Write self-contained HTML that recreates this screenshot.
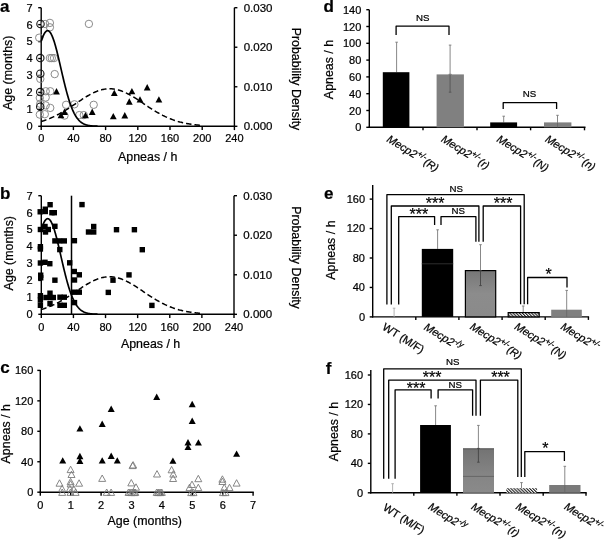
<!DOCTYPE html>
<html><head><meta charset="utf-8"><style>
html,body{margin:0;padding:0;background:#fff;}
svg{display:block;font-family:"Liberation Sans", sans-serif;will-change:transform;}
text{stroke:#000;stroke-width:0.22px;paint-order:stroke;}
text.b{stroke-width:0;}
</style></head><body>
<svg width="606" height="540" viewBox="0 0 606 540">
<rect width="606" height="540" fill="#fff"/>
<line x1="41.20" y1="7.70" x2="41.20" y2="126.90" stroke="#000" stroke-width="1.4" />
<line x1="38.20" y1="126.30" x2="41.20" y2="126.30" stroke="#000" stroke-width="1.4" />
<text x="32.60" y="130.20" font-size="11" text-anchor="end" font-weight="normal" font-style="normal" fill="#000" >0</text>
<line x1="38.20" y1="109.36" x2="41.20" y2="109.36" stroke="#000" stroke-width="1.4" />
<text x="32.60" y="113.26" font-size="11" text-anchor="end" font-weight="normal" font-style="normal" fill="#000" >1</text>
<line x1="38.20" y1="92.41" x2="41.20" y2="92.41" stroke="#000" stroke-width="1.4" />
<text x="32.60" y="96.31" font-size="11" text-anchor="end" font-weight="normal" font-style="normal" fill="#000" >2</text>
<line x1="38.20" y1="75.47" x2="41.20" y2="75.47" stroke="#000" stroke-width="1.4" />
<text x="32.60" y="79.37" font-size="11" text-anchor="end" font-weight="normal" font-style="normal" fill="#000" >3</text>
<line x1="38.20" y1="58.53" x2="41.20" y2="58.53" stroke="#000" stroke-width="1.4" />
<text x="32.60" y="62.43" font-size="11" text-anchor="end" font-weight="normal" font-style="normal" fill="#000" >4</text>
<line x1="38.20" y1="41.59" x2="41.20" y2="41.59" stroke="#000" stroke-width="1.4" />
<text x="32.60" y="45.49" font-size="11" text-anchor="end" font-weight="normal" font-style="normal" fill="#000" >5</text>
<line x1="38.20" y1="24.64" x2="41.20" y2="24.64" stroke="#000" stroke-width="1.4" />
<text x="32.60" y="28.54" font-size="11" text-anchor="end" font-weight="normal" font-style="normal" fill="#000" >6</text>
<line x1="38.20" y1="7.70" x2="41.20" y2="7.70" stroke="#000" stroke-width="1.4" />
<text x="32.60" y="11.60" font-size="11" text-anchor="end" font-weight="normal" font-style="normal" fill="#000" >7</text>
<line x1="234.40" y1="7.70" x2="234.40" y2="126.90" stroke="#000" stroke-width="1.4" />
<line x1="234.40" y1="126.30" x2="237.40" y2="126.30" stroke="#000" stroke-width="1.4" />
<text x="243.70" y="130.40" font-size="11.5" text-anchor="start" font-weight="normal" font-style="normal" fill="#000" >0.000</text>
<line x1="234.40" y1="86.77" x2="237.40" y2="86.77" stroke="#000" stroke-width="1.4" />
<text x="243.70" y="90.87" font-size="11.5" text-anchor="start" font-weight="normal" font-style="normal" fill="#000" >0.010</text>
<line x1="234.40" y1="47.23" x2="237.40" y2="47.23" stroke="#000" stroke-width="1.4" />
<text x="243.70" y="51.33" font-size="11.5" text-anchor="start" font-weight="normal" font-style="normal" fill="#000" >0.020</text>
<line x1="234.40" y1="7.70" x2="237.40" y2="7.70" stroke="#000" stroke-width="1.4" />
<text x="243.70" y="11.80" font-size="11.5" text-anchor="start" font-weight="normal" font-style="normal" fill="#000" >0.030</text>
<line x1="40.50" y1="126.30" x2="235.10" y2="126.30" stroke="#000" stroke-width="1.4" />
<line x1="41.20" y1="126.30" x2="41.20" y2="130.10" stroke="#000" stroke-width="1.4" />
<text x="41.20" y="142.40" font-size="11" text-anchor="middle" font-weight="normal" font-style="normal" fill="#000" >0</text>
<line x1="73.40" y1="126.30" x2="73.40" y2="130.10" stroke="#000" stroke-width="1.4" />
<text x="73.40" y="142.40" font-size="11" text-anchor="middle" font-weight="normal" font-style="normal" fill="#000" >40</text>
<line x1="105.60" y1="126.30" x2="105.60" y2="130.10" stroke="#000" stroke-width="1.4" />
<text x="105.60" y="142.40" font-size="11" text-anchor="middle" font-weight="normal" font-style="normal" fill="#000" >80</text>
<line x1="137.80" y1="126.30" x2="137.80" y2="130.10" stroke="#000" stroke-width="1.4" />
<text x="137.80" y="142.40" font-size="11" text-anchor="middle" font-weight="normal" font-style="normal" fill="#000" >120</text>
<line x1="170.00" y1="126.30" x2="170.00" y2="130.10" stroke="#000" stroke-width="1.4" />
<text x="170.00" y="142.40" font-size="11" text-anchor="middle" font-weight="normal" font-style="normal" fill="#000" >160</text>
<line x1="202.20" y1="126.30" x2="202.20" y2="130.10" stroke="#000" stroke-width="1.4" />
<text x="202.20" y="142.40" font-size="11" text-anchor="middle" font-weight="normal" font-style="normal" fill="#000" >200</text>
<line x1="234.40" y1="126.30" x2="234.40" y2="130.10" stroke="#000" stroke-width="1.4" />
<text x="234.40" y="142.40" font-size="11" text-anchor="middle" font-weight="normal" font-style="normal" fill="#000" >240</text>
<text x="147.70" y="161.40" font-size="12.4" text-anchor="middle" font-weight="normal" font-style="normal" fill="#000" >Apneas / h</text>
<text x="11.50" y="72.75" font-size="12.4" text-anchor="middle" font-weight="normal" font-style="normal" fill="#000" transform="rotate(-90 11.50 72.75)" >Age (months)</text>
<text x="291.60" y="79.00" font-size="12.4" text-anchor="middle" font-weight="normal" font-style="normal" fill="#000" transform="rotate(90 291.60 79.00)" >Probability Density</text>
<text x="0.00" y="12.20" font-size="17" text-anchor="start" font-weight="bold" font-style="normal" fill="#000" >a</text>
<circle cx="45.10" cy="24.00" r="3.7" fill="none" stroke="#858585" stroke-width="0.95"/>
<circle cx="49.90" cy="22.90" r="3.7" fill="none" stroke="#858585" stroke-width="0.95"/>
<circle cx="49.90" cy="27.30" r="3.7" fill="none" stroke="#858585" stroke-width="0.95"/>
<circle cx="88.90" cy="23.90" r="3.7" fill="none" stroke="#858585" stroke-width="0.95"/>
<circle cx="39.20" cy="37.70" r="3.7" fill="none" stroke="#858585" stroke-width="0.95"/>
<circle cx="49.90" cy="58.10" r="3.7" fill="none" stroke="#858585" stroke-width="0.95"/>
<circle cx="51.80" cy="58.10" r="3.7" fill="none" stroke="#858585" stroke-width="0.95"/>
<circle cx="54.00" cy="58.10" r="3.7" fill="none" stroke="#858585" stroke-width="0.95"/>
<circle cx="40.30" cy="78.90" r="3.7" fill="none" stroke="#858585" stroke-width="0.95"/>
<circle cx="54.70" cy="74.10" r="3.7" fill="none" stroke="#858585" stroke-width="0.95"/>
<circle cx="45.70" cy="91.25" r="3.7" fill="none" stroke="#858585" stroke-width="0.95"/>
<circle cx="50.25" cy="91.25" r="3.7" fill="none" stroke="#858585" stroke-width="0.95"/>
<circle cx="39.80" cy="97.90" r="3.7" fill="none" stroke="#858585" stroke-width="0.95"/>
<circle cx="45.70" cy="97.50" r="3.7" fill="none" stroke="#858585" stroke-width="0.95"/>
<circle cx="40.25" cy="103.75" r="3.7" fill="none" stroke="#858585" stroke-width="0.95"/>
<circle cx="45.70" cy="105.40" r="3.7" fill="none" stroke="#858585" stroke-width="0.95"/>
<circle cx="50.25" cy="107.90" r="3.7" fill="none" stroke="#858585" stroke-width="0.95"/>
<circle cx="39.80" cy="114.60" r="3.7" fill="none" stroke="#858585" stroke-width="0.95"/>
<circle cx="44.80" cy="114.20" r="3.7" fill="none" stroke="#858585" stroke-width="0.95"/>
<circle cx="66.10" cy="104.80" r="3.7" fill="none" stroke="#858585" stroke-width="0.95"/>
<circle cx="74.40" cy="104.30" r="3.7" fill="none" stroke="#858585" stroke-width="0.95"/>
<circle cx="93.70" cy="104.80" r="3.7" fill="none" stroke="#858585" stroke-width="0.95"/>
<circle cx="79.30" cy="115.10" r="3.7" fill="none" stroke="#858585" stroke-width="0.95"/>
<circle cx="83.80" cy="115.10" r="3.7" fill="none" stroke="#858585" stroke-width="0.95"/>
<circle cx="64.50" cy="115.60" r="3.7" fill="none" stroke="#858585" stroke-width="0.95"/>
<circle cx="40.50" cy="24.00" r="3.7" fill="none" stroke="#111" stroke-width="1.1"/>
<circle cx="40.30" cy="58.10" r="3.7" fill="none" stroke="#111" stroke-width="1.1"/>
<circle cx="40.30" cy="73.70" r="3.7" fill="none" stroke="#111" stroke-width="1.1"/>
<circle cx="40.25" cy="92.10" r="3.7" fill="none" stroke="#111" stroke-width="1.1"/>
<circle cx="40.25" cy="106.70" r="3.7" fill="none" stroke="#111" stroke-width="1.1"/>
<polyline points="41.20,41.31 41.60,40.10 42.01,38.94 42.41,37.85 42.81,36.83 43.21,35.88 43.62,35.00 44.02,34.20 44.42,33.48 44.82,32.84 45.23,32.28 45.63,31.81 46.03,31.41 46.43,31.11 46.84,30.89 47.24,30.76 47.64,30.72 48.04,30.76 48.45,30.89 48.85,31.11 49.25,31.41 49.65,31.81 50.05,32.28 50.46,32.84 50.86,33.48 51.26,34.20 51.67,35.00 52.07,35.88 52.47,36.83 52.87,37.85 53.28,38.94 53.68,40.10 54.08,41.31 54.48,42.59 54.89,43.93 55.29,45.31 55.69,46.75 56.09,48.24 56.50,49.76 56.90,51.33 57.30,52.93 57.70,54.56 58.11,56.22 58.51,57.90 58.91,59.61 59.31,61.33 59.72,63.07 60.12,64.82 60.52,66.57 60.92,68.32 61.33,70.08 61.73,71.83 62.13,73.58 62.53,75.32 62.94,77.04 63.34,78.76 63.74,80.45 64.14,82.12 64.55,83.77 64.95,85.40 65.35,87.00 65.75,88.58 66.16,90.12 66.56,91.63 66.96,93.11 67.36,94.56 67.77,95.97 68.17,97.34 68.57,98.68 68.97,99.98 69.38,101.24 69.78,102.47 70.18,103.65 70.58,104.80 70.98,105.90 71.39,106.97 71.79,108.00 72.19,108.99 72.59,109.94 73.00,110.85 73.40,111.72 73.80,112.56 74.20,113.36 74.61,114.13 75.01,114.86 75.41,115.56 75.81,116.22 76.22,116.85 76.62,117.46 77.02,118.02 77.42,118.56 77.83,119.08 78.23,119.56 78.63,120.02 79.03,120.45 79.44,120.86 79.84,121.24 80.24,121.60 80.65,121.94 81.05,122.26 81.45,122.56 81.85,122.83 82.25,123.10 82.66,123.34 83.06,123.57 83.46,123.78 83.87,123.98 84.27,124.17 84.67,124.34 85.07,124.50 85.47,124.65 85.88,124.78 86.28,124.91 86.68,125.03 87.09,125.14 87.49,125.24 87.89,125.33 88.29,125.42 88.69,125.49 89.10,125.57 89.50,125.63 89.90,125.69 90.31,125.75 90.71,125.80 91.11,125.85 91.51,125.89 91.91,125.93 92.32,125.97 92.72,126.00 93.12,126.03 93.53,126.06 93.93,126.08 94.33,126.10 94.73,126.12 95.13,126.14 95.54,126.16 95.94,126.17 96.34,126.18 96.75,126.20 97.15,126.21 97.55,126.22" fill="none" stroke="#000" stroke-width="1.7"/>
<polyline points="41.20,121.46 42.01,121.22 42.81,120.97 43.62,120.72 44.42,120.45 45.23,120.18 46.03,119.90 46.84,119.61 47.64,119.31 48.45,119.00 49.25,118.68 50.05,118.35 50.86,118.01 51.67,117.66 52.47,117.30 53.28,116.94 54.08,116.56 54.89,116.17 55.69,115.78 56.50,115.38 57.30,114.96 58.11,114.54 58.91,114.11 59.72,113.67 60.52,113.22 61.33,112.76 62.13,112.30 62.94,111.83 63.74,111.35 64.55,110.86 65.35,110.37 66.16,109.87 66.96,109.36 67.77,108.85 68.57,108.33 69.38,107.81 70.18,107.29 70.98,106.76 71.79,106.22 72.59,105.69 73.40,105.15 74.20,104.61 75.01,104.07 75.81,103.52 76.62,102.98 77.42,102.44 78.23,101.90 79.03,101.36 79.84,100.83 80.65,100.29 81.45,99.76 82.25,99.24 83.06,98.72 83.87,98.21 84.67,97.70 85.47,97.20 86.28,96.71 87.09,96.23 87.89,95.76 88.69,95.30 89.50,94.85 90.31,94.41 91.11,93.98 91.91,93.56 92.72,93.16 93.53,92.77 94.33,92.40 95.13,92.04 95.94,91.70 96.75,91.38 97.55,91.07 98.35,90.78 99.16,90.51 99.97,90.25 100.77,90.01 101.57,89.80 102.38,89.60 103.19,89.42 103.99,89.27 104.79,89.13 105.60,89.01 106.41,88.92 107.21,88.84 108.02,88.79 108.82,88.76 109.62,88.75 110.43,88.76 111.23,88.79 112.04,88.84 112.84,88.92 113.65,89.01 114.45,89.13 115.26,89.27 116.06,89.42 116.87,89.60 117.67,89.80 118.48,90.01 119.28,90.25 120.09,90.51 120.89,90.78 121.70,91.07 122.50,91.38 123.31,91.70 124.11,92.04 124.92,92.40 125.72,92.77 126.53,93.16 127.33,93.56 128.14,93.98 128.94,94.41 129.75,94.85 130.56,95.30 131.36,95.76 132.16,96.23 132.97,96.71 133.77,97.20 134.58,97.70 135.38,98.21 136.19,98.72 137.00,99.24 137.80,99.76 138.60,100.29 139.41,100.83 140.21,101.36 141.02,101.90 141.82,102.44 142.63,102.98 143.44,103.52 144.24,104.07 145.05,104.61 145.85,105.15 146.66,105.69 147.46,106.22 148.26,106.76 149.07,107.29 149.88,107.81 150.68,108.33 151.49,108.85 152.29,109.36 153.09,109.87 153.90,110.37 154.70,110.86 155.51,111.35 156.31,111.83 157.12,112.30 157.93,112.76 158.73,113.22 159.53,113.67 160.34,114.11 161.14,114.54 161.95,114.96 162.75,115.38 163.56,115.78 164.37,116.17 165.17,116.56 165.97,116.94 166.78,117.30 167.58,117.66 168.39,118.01 169.19,118.35 170.00,118.68 170.81,119.00 171.61,119.31 172.42,119.61 173.22,119.90 174.02,120.18 174.83,120.45 175.63,120.72 176.44,120.97 177.25,121.22 178.05,121.46 178.86,121.68 179.66,121.91 180.46,122.12 181.27,122.32 182.07,122.52 182.88,122.71 183.69,122.89 184.49,123.06 185.30,123.23 186.10,123.39 186.90,123.54 187.71,123.69 188.51,123.83 189.32,123.97 190.12,124.09 190.93,124.22 191.74,124.33 192.54,124.44 193.34,124.55 194.15,124.65 194.95,124.75 195.76,124.84 196.56,124.92 197.37,125.01 198.18,125.08 198.98,125.16 199.78,125.23 200.59,125.29 201.39,125.36 202.20,125.42" fill="none" stroke="#000" stroke-width="1.5" stroke-dasharray="5.5,3"/>
<polygon points="53.10,94.45 59.90,94.45 56.50,88.05" fill="#000" stroke="none" stroke-width="0.9"/>
<polygon points="61.10,114.90 67.90,114.90 64.50,108.50" fill="#000" stroke="none" stroke-width="0.9"/>
<polygon points="57.60,118.30 64.40,118.30 61.00,111.90" fill="#000" stroke="none" stroke-width="0.9"/>
<polygon points="82.10,118.30 88.90,118.30 85.50,111.90" fill="#000" stroke="none" stroke-width="0.9"/>
<polygon points="88.80,114.90 95.60,114.90 92.20,108.50" fill="#000" stroke="none" stroke-width="0.9"/>
<polygon points="110.90,96.10 117.70,96.10 114.30,89.70" fill="#000" stroke="none" stroke-width="0.9"/>
<polygon points="109.90,119.30 116.70,119.30 113.30,112.90" fill="#000" stroke="none" stroke-width="0.9"/>
<polygon points="128.50,94.30 135.30,94.30 131.90,87.90" fill="#000" stroke="none" stroke-width="0.9"/>
<polygon points="125.90,104.70 132.70,104.70 129.30,98.30" fill="#000" stroke="none" stroke-width="0.9"/>
<polygon points="136.60,102.60 143.40,102.60 140.00,96.20" fill="#000" stroke="none" stroke-width="0.9"/>
<polygon points="143.80,90.40 150.60,90.40 147.20,84.00" fill="#000" stroke="none" stroke-width="0.9"/>
<polygon points="155.50,102.60 162.30,102.60 158.90,96.20" fill="#000" stroke="none" stroke-width="0.9"/>
<polygon points="121.40,118.40 128.20,118.40 124.80,112.00" fill="#000" stroke="none" stroke-width="0.9"/>
<line x1="41.30" y1="195.70" x2="41.30" y2="314.90" stroke="#000" stroke-width="1.4" />
<line x1="38.30" y1="314.30" x2="41.30" y2="314.30" stroke="#000" stroke-width="1.4" />
<text x="32.70" y="318.20" font-size="11" text-anchor="end" font-weight="normal" font-style="normal" fill="#000" >0</text>
<line x1="38.30" y1="297.36" x2="41.30" y2="297.36" stroke="#000" stroke-width="1.4" />
<text x="32.70" y="301.26" font-size="11" text-anchor="end" font-weight="normal" font-style="normal" fill="#000" >1</text>
<line x1="38.30" y1="280.41" x2="41.30" y2="280.41" stroke="#000" stroke-width="1.4" />
<text x="32.70" y="284.31" font-size="11" text-anchor="end" font-weight="normal" font-style="normal" fill="#000" >2</text>
<line x1="38.30" y1="263.47" x2="41.30" y2="263.47" stroke="#000" stroke-width="1.4" />
<text x="32.70" y="267.37" font-size="11" text-anchor="end" font-weight="normal" font-style="normal" fill="#000" >3</text>
<line x1="38.30" y1="246.53" x2="41.30" y2="246.53" stroke="#000" stroke-width="1.4" />
<text x="32.70" y="250.43" font-size="11" text-anchor="end" font-weight="normal" font-style="normal" fill="#000" >4</text>
<line x1="38.30" y1="229.59" x2="41.30" y2="229.59" stroke="#000" stroke-width="1.4" />
<text x="32.70" y="233.49" font-size="11" text-anchor="end" font-weight="normal" font-style="normal" fill="#000" >5</text>
<line x1="38.30" y1="212.64" x2="41.30" y2="212.64" stroke="#000" stroke-width="1.4" />
<text x="32.70" y="216.54" font-size="11" text-anchor="end" font-weight="normal" font-style="normal" fill="#000" >6</text>
<line x1="38.30" y1="195.70" x2="41.30" y2="195.70" stroke="#000" stroke-width="1.4" />
<text x="32.70" y="199.60" font-size="11" text-anchor="end" font-weight="normal" font-style="normal" fill="#000" >7</text>
<line x1="234.00" y1="195.70" x2="234.00" y2="314.90" stroke="#000" stroke-width="1.4" />
<line x1="234.00" y1="314.30" x2="237.00" y2="314.30" stroke="#000" stroke-width="1.4" />
<text x="243.30" y="318.40" font-size="11.5" text-anchor="start" font-weight="normal" font-style="normal" fill="#000" >0.000</text>
<line x1="234.00" y1="274.77" x2="237.00" y2="274.77" stroke="#000" stroke-width="1.4" />
<text x="243.30" y="278.87" font-size="11.5" text-anchor="start" font-weight="normal" font-style="normal" fill="#000" >0.010</text>
<line x1="234.00" y1="235.23" x2="237.00" y2="235.23" stroke="#000" stroke-width="1.4" />
<text x="243.30" y="239.33" font-size="11.5" text-anchor="start" font-weight="normal" font-style="normal" fill="#000" >0.020</text>
<line x1="234.00" y1="195.70" x2="237.00" y2="195.70" stroke="#000" stroke-width="1.4" />
<text x="243.30" y="199.80" font-size="11.5" text-anchor="start" font-weight="normal" font-style="normal" fill="#000" >0.030</text>
<line x1="40.60" y1="314.30" x2="234.70" y2="314.30" stroke="#000" stroke-width="1.4" />
<line x1="41.30" y1="314.30" x2="41.30" y2="318.10" stroke="#000" stroke-width="1.4" />
<text x="41.30" y="331.00" font-size="11" text-anchor="middle" font-weight="normal" font-style="normal" fill="#000" >0</text>
<line x1="73.42" y1="314.30" x2="73.42" y2="318.10" stroke="#000" stroke-width="1.4" />
<text x="73.42" y="331.00" font-size="11" text-anchor="middle" font-weight="normal" font-style="normal" fill="#000" >40</text>
<line x1="105.53" y1="314.30" x2="105.53" y2="318.10" stroke="#000" stroke-width="1.4" />
<text x="105.53" y="331.00" font-size="11" text-anchor="middle" font-weight="normal" font-style="normal" fill="#000" >80</text>
<line x1="137.65" y1="314.30" x2="137.65" y2="318.10" stroke="#000" stroke-width="1.4" />
<text x="137.65" y="331.00" font-size="11" text-anchor="middle" font-weight="normal" font-style="normal" fill="#000" >120</text>
<line x1="169.77" y1="314.30" x2="169.77" y2="318.10" stroke="#000" stroke-width="1.4" />
<text x="169.77" y="331.00" font-size="11" text-anchor="middle" font-weight="normal" font-style="normal" fill="#000" >160</text>
<line x1="201.88" y1="314.30" x2="201.88" y2="318.10" stroke="#000" stroke-width="1.4" />
<text x="201.88" y="331.00" font-size="11" text-anchor="middle" font-weight="normal" font-style="normal" fill="#000" >200</text>
<line x1="234.00" y1="314.30" x2="234.00" y2="318.10" stroke="#000" stroke-width="1.4" />
<text x="234.00" y="331.00" font-size="11" text-anchor="middle" font-weight="normal" font-style="normal" fill="#000" >240</text>
<text x="150.60" y="347.70" font-size="12.4" text-anchor="middle" font-weight="normal" font-style="normal" fill="#000" >Apneas / h</text>
<text x="12.70" y="253.20" font-size="12.4" text-anchor="middle" font-weight="normal" font-style="normal" fill="#000" transform="rotate(-90 12.70 253.20)" >Age (months)</text>
<text x="291.60" y="257.50" font-size="12.4" text-anchor="middle" font-weight="normal" font-style="normal" fill="#000" transform="rotate(90 291.60 257.50)" >Probability Density</text>
<text x="-0.10" y="198.50" font-size="17" text-anchor="start" font-weight="bold" font-style="normal" fill="#000" >b</text>
<polyline points="41.30,229.31 41.70,228.10 42.10,226.94 42.50,225.85 42.91,224.83 43.31,223.88 43.71,223.00 44.11,222.20 44.51,221.48 44.91,220.84 45.31,220.28 45.72,219.81 46.12,219.41 46.52,219.11 46.92,218.89 47.32,218.76 47.72,218.72 48.12,218.76 48.53,218.89 48.93,219.11 49.33,219.41 49.73,219.81 50.13,220.28 50.53,220.84 50.93,221.48 51.34,222.20 51.74,223.00 52.14,223.88 52.54,224.83 52.94,225.85 53.34,226.94 53.75,228.10 54.15,229.31 54.55,230.59 54.95,231.93 55.35,233.31 55.75,234.75 56.15,236.24 56.56,237.76 56.96,239.33 57.36,240.93 57.76,242.56 58.16,244.22 58.56,245.90 58.96,247.61 59.37,249.33 59.77,251.07 60.17,252.82 60.57,254.57 60.97,256.32 61.37,258.08 61.77,259.83 62.18,261.58 62.58,263.32 62.98,265.04 63.38,266.76 63.78,268.45 64.18,270.12 64.58,271.77 64.99,273.40 65.39,275.00 65.79,276.58 66.19,278.12 66.59,279.63 66.99,281.11 67.39,282.56 67.80,283.97 68.20,285.34 68.60,286.68 69.00,287.98 69.40,289.24 69.80,290.47 70.20,291.65 70.61,292.80 71.01,293.90 71.41,294.97 71.81,296.00 72.21,296.99 72.61,297.94 73.02,298.85 73.42,299.72 73.82,300.56 74.22,301.36 74.62,302.13 75.02,302.86 75.42,303.56 75.83,304.22 76.23,304.85 76.63,305.46 77.03,306.02 77.43,306.56 77.83,307.08 78.23,307.56 78.64,308.02 79.04,308.45 79.44,308.86 79.84,309.24 80.24,309.60 80.64,309.94 81.04,310.26 81.45,310.56 81.85,310.83 82.25,311.10 82.65,311.34 83.05,311.57 83.45,311.78 83.85,311.98 84.26,312.17 84.66,312.34 85.06,312.50 85.46,312.65 85.86,312.78 86.26,312.91 86.66,313.03 87.07,313.14 87.47,313.24 87.87,313.33 88.27,313.42 88.67,313.49 89.07,313.57 89.47,313.63 89.88,313.69 90.28,313.75 90.68,313.80 91.08,313.85 91.48,313.89 91.88,313.93 92.29,313.97 92.69,314.00 93.09,314.03 93.49,314.06 93.89,314.08 94.29,314.10 94.69,314.12 95.10,314.14 95.50,314.16 95.90,314.17 96.30,314.18 96.70,314.20 97.10,314.21 97.50,314.22" fill="none" stroke="#000" stroke-width="1.7"/>
<polyline points="41.30,309.46 42.10,309.22 42.91,308.97 43.71,308.72 44.51,308.45 45.31,308.18 46.12,307.90 46.92,307.61 47.72,307.31 48.53,307.00 49.33,306.68 50.13,306.35 50.93,306.01 51.74,305.66 52.54,305.30 53.34,304.94 54.15,304.56 54.95,304.17 55.75,303.78 56.56,303.38 57.36,302.96 58.16,302.54 58.96,302.11 59.77,301.67 60.57,301.22 61.37,300.76 62.18,300.30 62.98,299.83 63.78,299.35 64.58,298.86 65.39,298.37 66.19,297.87 66.99,297.36 67.80,296.85 68.60,296.33 69.40,295.81 70.20,295.29 71.01,294.76 71.81,294.22 72.61,293.69 73.42,293.15 74.22,292.61 75.02,292.07 75.83,291.52 76.63,290.98 77.43,290.44 78.23,289.90 79.04,289.36 79.84,288.83 80.64,288.29 81.45,287.76 82.25,287.24 83.05,286.72 83.85,286.21 84.66,285.70 85.46,285.20 86.26,284.71 87.07,284.23 87.87,283.76 88.67,283.30 89.47,282.85 90.28,282.41 91.08,281.98 91.88,281.56 92.69,281.16 93.49,280.77 94.29,280.40 95.10,280.04 95.90,279.70 96.70,279.38 97.50,279.07 98.31,278.78 99.11,278.51 99.91,278.25 100.72,278.01 101.52,277.80 102.32,277.60 103.12,277.42 103.93,277.27 104.73,277.13 105.53,277.01 106.34,276.92 107.14,276.84 107.94,276.79 108.74,276.76 109.55,276.75 110.35,276.76 111.15,276.79 111.96,276.84 112.76,276.92 113.56,277.01 114.37,277.13 115.17,277.27 115.97,277.42 116.77,277.60 117.58,277.80 118.38,278.01 119.18,278.25 119.99,278.51 120.79,278.78 121.59,279.07 122.39,279.38 123.20,279.70 124.00,280.04 124.80,280.40 125.61,280.77 126.41,281.16 127.21,281.56 128.01,281.98 128.82,282.41 129.62,282.85 130.42,283.30 131.23,283.76 132.03,284.23 132.83,284.71 133.64,285.20 134.44,285.70 135.24,286.21 136.04,286.72 136.85,287.24 137.65,287.76 138.45,288.29 139.26,288.83 140.06,289.36 140.86,289.90 141.66,290.44 142.47,290.98 143.27,291.52 144.07,292.07 144.88,292.61 145.68,293.15 146.48,293.69 147.28,294.22 148.09,294.76 148.89,295.29 149.69,295.81 150.50,296.33 151.30,296.85 152.10,297.36 152.91,297.87 153.71,298.37 154.51,298.86 155.31,299.35 156.12,299.83 156.92,300.30 157.72,300.76 158.53,301.22 159.33,301.67 160.13,302.11 160.93,302.54 161.74,302.96 162.54,303.38 163.34,303.78 164.15,304.17 164.95,304.56 165.75,304.94 166.56,305.30 167.36,305.66 168.16,306.01 168.96,306.35 169.77,306.68 170.57,307.00 171.37,307.31 172.18,307.61 172.98,307.90 173.78,308.18 174.58,308.45 175.39,308.72 176.19,308.97 176.99,309.22 177.80,309.46 178.60,309.68 179.40,309.91 180.20,310.12 181.01,310.32 181.81,310.52 182.61,310.71 183.42,310.89 184.22,311.06 185.02,311.23 185.82,311.39 186.63,311.54 187.43,311.69 188.23,311.83 189.04,311.97 189.84,312.09 190.64,312.22 191.45,312.33 192.25,312.44 193.05,312.55 193.85,312.65 194.66,312.75 195.46,312.84 196.26,312.92 197.07,313.01 197.87,313.08 198.67,313.16 199.47,313.23 200.28,313.29 201.08,313.36 201.88,313.42" fill="none" stroke="#000" stroke-width="1.5" stroke-dasharray="5.5,3"/>
<line x1="71.50" y1="195.70" x2="71.50" y2="314.30" stroke="#000" stroke-width="1.5" />
<line x1="40.30" y1="369.90" x2="40.30" y2="492.80" stroke="#000" stroke-width="1.4" />
<line x1="37.30" y1="492.20" x2="40.30" y2="492.20" stroke="#000" stroke-width="1.4" />
<text x="33.30" y="496.10" font-size="11" text-anchor="end" font-weight="normal" font-style="normal" fill="#000" >0</text>
<line x1="37.30" y1="461.75" x2="40.30" y2="461.75" stroke="#000" stroke-width="1.4" />
<text x="33.30" y="465.65" font-size="11" text-anchor="end" font-weight="normal" font-style="normal" fill="#000" >40</text>
<line x1="37.30" y1="431.30" x2="40.30" y2="431.30" stroke="#000" stroke-width="1.4" />
<text x="33.30" y="435.20" font-size="11" text-anchor="end" font-weight="normal" font-style="normal" fill="#000" >80</text>
<line x1="37.30" y1="400.85" x2="40.30" y2="400.85" stroke="#000" stroke-width="1.4" />
<text x="33.30" y="404.75" font-size="11" text-anchor="end" font-weight="normal" font-style="normal" fill="#000" >120</text>
<line x1="37.30" y1="370.40" x2="40.30" y2="370.40" stroke="#000" stroke-width="1.4" />
<text x="33.30" y="374.30" font-size="11" text-anchor="end" font-weight="normal" font-style="normal" fill="#000" >160</text>
<line x1="39.60" y1="492.20" x2="253.80" y2="492.20" stroke="#000" stroke-width="1.4" />
<line x1="40.30" y1="492.20" x2="40.30" y2="495.80" stroke="#000" stroke-width="1.4" />
<text x="40.30" y="508.50" font-size="11" text-anchor="middle" font-weight="normal" font-style="normal" fill="#000" >0</text>
<line x1="70.70" y1="492.20" x2="70.70" y2="495.80" stroke="#000" stroke-width="1.4" />
<text x="70.70" y="508.50" font-size="11" text-anchor="middle" font-weight="normal" font-style="normal" fill="#000" >1</text>
<line x1="101.10" y1="492.20" x2="101.10" y2="495.80" stroke="#000" stroke-width="1.4" />
<text x="101.10" y="508.50" font-size="11" text-anchor="middle" font-weight="normal" font-style="normal" fill="#000" >2</text>
<line x1="131.50" y1="492.20" x2="131.50" y2="495.80" stroke="#000" stroke-width="1.4" />
<text x="131.50" y="508.50" font-size="11" text-anchor="middle" font-weight="normal" font-style="normal" fill="#000" >3</text>
<line x1="161.90" y1="492.20" x2="161.90" y2="495.80" stroke="#000" stroke-width="1.4" />
<text x="161.90" y="508.50" font-size="11" text-anchor="middle" font-weight="normal" font-style="normal" fill="#000" >4</text>
<line x1="192.30" y1="492.20" x2="192.30" y2="495.80" stroke="#000" stroke-width="1.4" />
<text x="192.30" y="508.50" font-size="11" text-anchor="middle" font-weight="normal" font-style="normal" fill="#000" >5</text>
<line x1="222.70" y1="492.20" x2="222.70" y2="495.80" stroke="#000" stroke-width="1.4" />
<text x="222.70" y="508.50" font-size="11" text-anchor="middle" font-weight="normal" font-style="normal" fill="#000" >6</text>
<line x1="253.10" y1="492.20" x2="253.10" y2="495.80" stroke="#000" stroke-width="1.4" />
<text x="253.10" y="508.50" font-size="11" text-anchor="middle" font-weight="normal" font-style="normal" fill="#000" >7</text>
<text x="144.80" y="525.20" font-size="12.4" text-anchor="middle" font-weight="normal" font-style="normal" fill="#000" >Age (months)</text>
<text x="10.30" y="433.80" font-size="12.4" text-anchor="middle" font-weight="normal" font-style="normal" fill="#000" transform="rotate(-90 10.30 433.80)" >Apneas / h</text>
<text x="0.20" y="373.40" font-size="17" text-anchor="start" font-weight="bold" font-style="normal" fill="#000" >c</text>
<defs>
<pattern id="hatch" patternUnits="userSpaceOnUse" width="2.2" height="2.2" patternTransform="rotate(-45)">
<rect width="2.2" height="2.2" fill="#fff"/><rect width="1.1" height="2.2" fill="#222"/></pattern>
<linearGradient id="gR" x1="0" y1="0" x2="0" y2="1">
<stop offset="0" stop-color="#777"/><stop offset="0.5" stop-color="#8c8c8c"/><stop offset="1" stop-color="#8a8a8a"/></linearGradient>
<linearGradient id="gr" x1="0" y1="0" x2="0" y2="1">
<stop offset="0" stop-color="#737373"/><stop offset="0.6" stop-color="#858585"/><stop offset="1" stop-color="#8a8a8a"/></linearGradient>
</defs>
<line x1="369.30" y1="9.70" x2="369.30" y2="127.90" stroke="#000" stroke-width="1.4" />
<line x1="366.30" y1="127.30" x2="369.30" y2="127.30" stroke="#000" stroke-width="1.4" />
<text x="361.30" y="131.40" font-size="11" text-anchor="end" font-weight="normal" font-style="normal" fill="#000" >0</text>
<line x1="366.30" y1="110.50" x2="369.30" y2="110.50" stroke="#000" stroke-width="1.4" />
<text x="361.30" y="114.60" font-size="11" text-anchor="end" font-weight="normal" font-style="normal" fill="#000" >20</text>
<line x1="366.30" y1="93.70" x2="369.30" y2="93.70" stroke="#000" stroke-width="1.4" />
<text x="361.30" y="97.80" font-size="11" text-anchor="end" font-weight="normal" font-style="normal" fill="#000" >40</text>
<line x1="366.30" y1="76.90" x2="369.30" y2="76.90" stroke="#000" stroke-width="1.4" />
<text x="361.30" y="81.00" font-size="11" text-anchor="end" font-weight="normal" font-style="normal" fill="#000" >60</text>
<line x1="366.30" y1="60.10" x2="369.30" y2="60.10" stroke="#000" stroke-width="1.4" />
<text x="361.30" y="64.20" font-size="11" text-anchor="end" font-weight="normal" font-style="normal" fill="#000" >80</text>
<line x1="366.30" y1="43.30" x2="369.30" y2="43.30" stroke="#000" stroke-width="1.4" />
<text x="361.30" y="47.40" font-size="11" text-anchor="end" font-weight="normal" font-style="normal" fill="#000" >100</text>
<line x1="366.30" y1="26.50" x2="369.30" y2="26.50" stroke="#000" stroke-width="1.4" />
<text x="361.30" y="30.60" font-size="11" text-anchor="end" font-weight="normal" font-style="normal" fill="#000" >120</text>
<line x1="366.30" y1="9.70" x2="369.30" y2="9.70" stroke="#000" stroke-width="1.4" />
<text x="361.30" y="13.80" font-size="11" text-anchor="end" font-weight="normal" font-style="normal" fill="#000" >140</text>
<line x1="368.60" y1="127.30" x2="585.50" y2="127.30" stroke="#000" stroke-width="1.4" />
<line x1="423.00" y1="127.30" x2="423.00" y2="130.30" stroke="#000" stroke-width="1.4" />
<line x1="477.00" y1="127.30" x2="477.00" y2="130.30" stroke="#000" stroke-width="1.4" />
<line x1="530.60" y1="127.30" x2="530.60" y2="130.30" stroke="#000" stroke-width="1.4" />
<line x1="584.50" y1="127.30" x2="584.50" y2="130.30" stroke="#000" stroke-width="1.4" />
<text x="333.20" y="69.50" font-size="12.4" text-anchor="middle" font-weight="normal" font-style="normal" fill="#000" transform="rotate(-90 333.20 69.50)" >Apneas / h</text>
<text x="328.70" y="12.20" font-size="17" text-anchor="middle" font-weight="bold" font-style="normal" fill="#000" >d</text>
<line x1="396.60" y1="42.20" x2="396.60" y2="72.20" stroke="#7a7a7a" stroke-width="0.9" />
<line x1="395.30" y1="42.20" x2="397.90" y2="42.20" stroke="#7a7a7a" stroke-width="0.9" />
<rect x="382.80" y="72.20" width="26.60" height="55.10" fill="#000" stroke="none" stroke-width="0" />
<rect x="436.60" y="74.40" width="27.30" height="52.90" fill="#808080" stroke="none" stroke-width="0" />
<line x1="450.10" y1="45.10" x2="450.10" y2="74.40" stroke="#7a7a7a" stroke-width="0.9" />
<line x1="448.80" y1="45.10" x2="451.40" y2="45.10" stroke="#7a7a7a" stroke-width="0.9" />
<line x1="450.10" y1="74.40" x2="450.10" y2="92.20" stroke="#555" stroke-width="0.9" />
<line x1="448.80" y1="74.40" x2="451.40" y2="74.40" stroke="#555" stroke-width="0.9" />
<line x1="448.80" y1="92.20" x2="451.40" y2="92.20" stroke="#555" stroke-width="0.9" />
<line x1="448.80" y1="74.40" x2="451.40" y2="74.40" stroke="#8a8a8a" stroke-width="0.8" />
<line x1="503.70" y1="116.20" x2="503.70" y2="122.40" stroke="#7a7a7a" stroke-width="0.9" />
<line x1="502.40" y1="116.20" x2="505.00" y2="116.20" stroke="#7a7a7a" stroke-width="0.9" />
<rect x="490.20" y="122.40" width="26.90" height="4.90" fill="#000" stroke="none" stroke-width="0" />
<line x1="557.50" y1="115.30" x2="557.50" y2="122.40" stroke="#7a7a7a" stroke-width="0.9" />
<line x1="556.20" y1="115.30" x2="558.80" y2="115.30" stroke="#7a7a7a" stroke-width="0.9" />
<rect x="544.00" y="122.40" width="27.40" height="4.90" fill="#808080" stroke="none" stroke-width="0" />
<line x1="557.50" y1="122.40" x2="557.50" y2="127.30" stroke="#666" stroke-width="0.8" />
<polyline points="396.10,34.90 396.10,26.20 449.00,26.20 449.00,34.90" fill="none" stroke="#000" stroke-width="1.3" stroke-linejoin="round"/>
<text x="422.80" y="21.10" font-size="9.7" text-anchor="middle" font-weight="normal" font-style="normal" fill="#000" >NS</text>
<polyline points="503.20,109.00 503.20,102.70 556.60,102.70 556.60,109.00" fill="none" stroke="#000" stroke-width="1.3" stroke-linejoin="round"/>
<text x="529.60" y="96.80" font-size="9.7" text-anchor="middle" font-weight="normal" font-style="normal" fill="#000" >NS</text>
<text x="386.10" y="140.90" font-size="11.1" text-anchor="start" font-weight="normal" font-style="italic" fill="#000" transform="rotate(32 386.10 140.90)" >Mecp2<tspan font-size="8.21" dy="-4.2" dx="0.2">+/-</tspan><tspan font-size="10.66" dy="4.2" dx="0.3">(R)</tspan></text>
<text x="440.40" y="140.90" font-size="11.1" text-anchor="start" font-weight="normal" font-style="italic" fill="#000" transform="rotate(32 440.40 140.90)" >Mecp2<tspan font-size="8.21" dy="-4.2" dx="0.2">+/-</tspan><tspan font-size="10.66" dy="4.2" dx="0.3">(r)</tspan></text>
<text x="496.10" y="140.90" font-size="11.1" text-anchor="start" font-weight="normal" font-style="italic" fill="#000" transform="rotate(32 496.10 140.90)" >Mecp2<tspan font-size="8.21" dy="-4.2" dx="0.2">+/-</tspan><tspan font-size="10.66" dy="4.2" dx="0.3">(N)</tspan></text>
<text x="544.40" y="140.90" font-size="11.1" text-anchor="start" font-weight="normal" font-style="italic" fill="#000" transform="rotate(32 544.40 140.90)" >Mecp2<tspan font-size="8.21" dy="-4.2" dx="0.2">+/-</tspan><tspan font-size="10.66" dy="4.2" dx="0.3">(n)</tspan></text>
<line x1="372.70" y1="185.00" x2="372.70" y2="317.50" stroke="#000" stroke-width="1.4" />
<line x1="369.70" y1="316.90" x2="372.70" y2="316.90" stroke="#000" stroke-width="1.4" />
<text x="365.00" y="320.60" font-size="11" text-anchor="end" font-weight="normal" font-style="normal" fill="#000" >0</text>
<line x1="369.70" y1="287.45" x2="372.70" y2="287.45" stroke="#000" stroke-width="1.4" />
<text x="365.00" y="291.15" font-size="11" text-anchor="end" font-weight="normal" font-style="normal" fill="#000" >40</text>
<line x1="369.70" y1="258.00" x2="372.70" y2="258.00" stroke="#000" stroke-width="1.4" />
<text x="365.00" y="261.70" font-size="11" text-anchor="end" font-weight="normal" font-style="normal" fill="#000" >80</text>
<line x1="369.70" y1="228.55" x2="372.70" y2="228.55" stroke="#000" stroke-width="1.4" />
<text x="365.00" y="232.25" font-size="11" text-anchor="end" font-weight="normal" font-style="normal" fill="#000" >120</text>
<line x1="369.70" y1="199.10" x2="372.70" y2="199.10" stroke="#000" stroke-width="1.4" />
<text x="365.00" y="202.80" font-size="11" text-anchor="end" font-weight="normal" font-style="normal" fill="#000" >160</text>
<line x1="372.00" y1="316.90" x2="589.10" y2="316.90" stroke="#000" stroke-width="1.4" />
<line x1="415.80" y1="316.90" x2="415.80" y2="319.90" stroke="#000" stroke-width="1.4" />
<line x1="458.90" y1="316.90" x2="458.90" y2="319.90" stroke="#000" stroke-width="1.4" />
<line x1="502.10" y1="316.90" x2="502.10" y2="319.90" stroke="#000" stroke-width="1.4" />
<line x1="545.20" y1="316.90" x2="545.20" y2="319.90" stroke="#000" stroke-width="1.4" />
<line x1="588.40" y1="316.90" x2="588.40" y2="319.90" stroke="#000" stroke-width="1.4" />
<text x="335.50" y="250.10" font-size="12.4" text-anchor="middle" font-weight="normal" font-style="normal" fill="#000" transform="rotate(-90 335.50 250.10)" >Apneas / h</text>
<text x="328.70" y="199.00" font-size="17" text-anchor="middle" font-weight="bold" font-style="normal" fill="#000" >e</text>
<line x1="394.10" y1="308.20" x2="394.10" y2="316.90" stroke="#aaa" stroke-width="0.9" />
<line x1="392.80" y1="308.20" x2="395.40" y2="308.20" stroke="#aaa" stroke-width="0.9" />
<line x1="437.60" y1="229.80" x2="437.60" y2="248.90" stroke="#7a7a7a" stroke-width="0.9" />
<line x1="436.30" y1="229.80" x2="438.90" y2="229.80" stroke="#7a7a7a" stroke-width="0.9" />
<rect x="421.80" y="248.90" width="31.40" height="68.00" fill="#000" stroke="none" stroke-width="0" />
<line x1="421.80" y1="263.80" x2="453.20" y2="263.80" stroke="#3a3a3a" stroke-width="0.8" />
<line x1="480.50" y1="244.70" x2="480.50" y2="270.00" stroke="#7a7a7a" stroke-width="0.9" />
<line x1="479.20" y1="244.70" x2="481.80" y2="244.70" stroke="#7a7a7a" stroke-width="0.9" />
<rect x="465.40" y="270.60" width="30.30" height="46.30" fill="url(#gR)" stroke="#000" stroke-width="1.2" />
<line x1="480.50" y1="270.60" x2="480.50" y2="285.60" stroke="#444" stroke-width="0.9" />
<line x1="479.20" y1="270.60" x2="481.80" y2="270.60" stroke="#444" stroke-width="0.9" />
<line x1="479.20" y1="285.60" x2="481.80" y2="285.60" stroke="#444" stroke-width="0.9" />
<line x1="523.20" y1="306.00" x2="523.20" y2="312.00" stroke="#7a7a7a" stroke-width="0.9" />
<line x1="521.90" y1="306.00" x2="524.50" y2="306.00" stroke="#7a7a7a" stroke-width="0.9" />
<rect x="508.20" y="312.60" width="31.00" height="4.30" fill="url(#hatch)" stroke="#000" stroke-width="1.2" />
<line x1="566.70" y1="290.40" x2="566.70" y2="309.70" stroke="#7a7a7a" stroke-width="0.9" />
<line x1="565.40" y1="290.40" x2="568.00" y2="290.40" stroke="#7a7a7a" stroke-width="0.9" />
<rect x="551.20" y="309.70" width="30.60" height="7.20" fill="#808080" stroke="none" stroke-width="0" />
<line x1="566.70" y1="309.70" x2="566.70" y2="316.90" stroke="#666" stroke-width="0.8" />
<polyline points="386.90,304.60 386.90,194.60 524.20,194.60 524.20,304.30" fill="none" stroke="#000" stroke-width="1.3" stroke-linejoin="round"/>
<polyline points="391.30,304.60 391.30,206.00 478.90,206.00 478.90,241.70" fill="none" stroke="#000" stroke-width="1.3" stroke-linejoin="round"/>
<polyline points="483.20,241.70 483.20,206.00 520.60,206.00 520.60,304.30" fill="none" stroke="#000" stroke-width="1.3" stroke-linejoin="round"/>
<polyline points="398.70,304.60 398.70,216.60 434.60,216.60 434.60,225.00" fill="none" stroke="#000" stroke-width="1.3" stroke-linejoin="round"/>
<polyline points="441.00,225.00 441.00,216.60 475.90,216.60 475.90,241.70" fill="none" stroke="#000" stroke-width="1.3" stroke-linejoin="round"/>
<polyline points="527.60,304.30 527.60,277.50 567.00,277.50 567.00,287.40" fill="none" stroke="#000" stroke-width="1.3" stroke-linejoin="round"/>
<text x="456.20" y="191.90" font-size="9.7" text-anchor="middle" font-weight="normal" font-style="normal" fill="#000" >NS</text>
<text x="435.10" y="209.30" font-size="16" text-anchor="middle" font-weight="normal" font-style="normal" fill="#000" >***</text>
<text x="503.20" y="209.30" font-size="16" text-anchor="middle" font-weight="normal" font-style="normal" fill="#000" >***</text>
<text x="418.90" y="220.30" font-size="16" text-anchor="middle" font-weight="normal" font-style="normal" fill="#000" >***</text>
<text x="458.20" y="214.30" font-size="9.7" text-anchor="middle" font-weight="normal" font-style="normal" fill="#000" >NS</text>
<text x="548.70" y="279.80" font-size="16" text-anchor="middle" font-weight="normal" font-style="normal" fill="#000" >*</text>
<text x="381.60" y="329.00" font-size="11.1" text-anchor="start" font-weight="normal" font-style="normal" fill="#000" transform="rotate(32 381.60 329.00)" >WT (M/F)</text>
<text x="423.30" y="328.90" font-size="11.1" text-anchor="start" font-weight="normal" font-style="italic" fill="#000" transform="rotate(32 423.30 328.90)" >Mecp2<tspan font-size="8.21" dy="-4.2" dx="0.2">-/y</tspan></text>
<text x="469.20" y="328.40" font-size="11.1" text-anchor="start" font-weight="normal" font-style="italic" fill="#000" transform="rotate(32 469.20 328.40)" >Mecp2<tspan font-size="8.21" dy="-4.2" dx="0.2">+/-</tspan><tspan font-size="10.66" dy="4.2" dx="0.3">(R)</tspan></text>
<text x="513.80" y="328.40" font-size="11.1" text-anchor="start" font-weight="normal" font-style="italic" fill="#000" transform="rotate(32 513.80 328.40)" >Mecp2<tspan font-size="8.21" dy="-4.2" dx="0.2">+/-</tspan><tspan font-size="10.66" dy="4.2" dx="0.3">(N)</tspan></text>
<text x="559.90" y="328.40" font-size="11.1" text-anchor="start" font-weight="normal" font-style="italic" fill="#000" transform="rotate(32 559.90 328.40)" >Mecp2<tspan font-size="8.21" dy="-4.2" dx="0.2">+/-</tspan></text>
<line x1="370.80" y1="369.90" x2="370.80" y2="493.40" stroke="#000" stroke-width="1.4" />
<line x1="367.80" y1="492.80" x2="370.80" y2="492.80" stroke="#000" stroke-width="1.4" />
<text x="363.00" y="496.50" font-size="11" text-anchor="end" font-weight="normal" font-style="normal" fill="#000" >0</text>
<line x1="367.80" y1="463.35" x2="370.80" y2="463.35" stroke="#000" stroke-width="1.4" />
<text x="363.00" y="467.05" font-size="11" text-anchor="end" font-weight="normal" font-style="normal" fill="#000" >40</text>
<line x1="367.80" y1="433.90" x2="370.80" y2="433.90" stroke="#000" stroke-width="1.4" />
<text x="363.00" y="437.60" font-size="11" text-anchor="end" font-weight="normal" font-style="normal" fill="#000" >80</text>
<line x1="367.80" y1="404.45" x2="370.80" y2="404.45" stroke="#000" stroke-width="1.4" />
<text x="363.00" y="408.15" font-size="11" text-anchor="end" font-weight="normal" font-style="normal" fill="#000" >120</text>
<line x1="367.80" y1="375.00" x2="370.80" y2="375.00" stroke="#000" stroke-width="1.4" />
<text x="363.00" y="378.70" font-size="11" text-anchor="end" font-weight="normal" font-style="normal" fill="#000" >160</text>
<line x1="370.10" y1="492.80" x2="586.70" y2="492.80" stroke="#000" stroke-width="1.4" />
<line x1="413.80" y1="492.80" x2="413.80" y2="495.80" stroke="#000" stroke-width="1.4" />
<line x1="456.90" y1="492.80" x2="456.90" y2="495.80" stroke="#000" stroke-width="1.4" />
<line x1="500.00" y1="492.80" x2="500.00" y2="495.80" stroke="#000" stroke-width="1.4" />
<line x1="543.20" y1="492.80" x2="543.20" y2="495.80" stroke="#000" stroke-width="1.4" />
<line x1="586.00" y1="492.80" x2="586.00" y2="495.80" stroke="#000" stroke-width="1.4" />
<text x="338.00" y="431.50" font-size="12.4" text-anchor="middle" font-weight="normal" font-style="normal" fill="#000" transform="rotate(-90 338.00 431.50)" >Apneas / h</text>
<text x="328.70" y="373.50" font-size="17" text-anchor="middle" font-weight="bold" font-style="normal" fill="#000" >f</text>
<line x1="392.60" y1="483.70" x2="392.60" y2="492.80" stroke="#aaa" stroke-width="0.9" />
<line x1="391.30" y1="483.70" x2="393.90" y2="483.70" stroke="#aaa" stroke-width="0.9" />
<line x1="435.60" y1="405.80" x2="435.60" y2="425.00" stroke="#7a7a7a" stroke-width="0.9" />
<line x1="434.30" y1="405.80" x2="436.90" y2="405.80" stroke="#7a7a7a" stroke-width="0.9" />
<rect x="420.10" y="425.00" width="30.80" height="67.80" fill="#000" stroke="none" stroke-width="0" />
<line x1="478.40" y1="425.40" x2="478.40" y2="448.40" stroke="#7a7a7a" stroke-width="0.9" />
<line x1="477.10" y1="425.40" x2="479.70" y2="425.40" stroke="#7a7a7a" stroke-width="0.9" />
<rect x="463.00" y="448.40" width="31.00" height="44.40" fill="url(#gr)" stroke="none" stroke-width="0" />
<line x1="463.00" y1="448.90" x2="494.00" y2="448.90" stroke="#5a5a5a" stroke-width="1.0" />
<line x1="463.00" y1="476.40" x2="494.00" y2="476.40" stroke="#666" stroke-width="1.0" />
<line x1="478.40" y1="448.40" x2="478.40" y2="462.20" stroke="#444" stroke-width="0.9" />
<line x1="477.10" y1="448.40" x2="479.70" y2="448.40" stroke="#444" stroke-width="0.9" />
<line x1="477.10" y1="462.20" x2="479.70" y2="462.20" stroke="#444" stroke-width="0.9" />
<line x1="521.50" y1="482.60" x2="521.50" y2="488.20" stroke="#7a7a7a" stroke-width="0.9" />
<line x1="520.20" y1="482.60" x2="522.80" y2="482.60" stroke="#7a7a7a" stroke-width="0.9" />
<rect x="506.30" y="488.20" width="30.80" height="4.60" fill="url(#hatch)" stroke="none" stroke-width="0" />
<line x1="564.80" y1="466.30" x2="564.80" y2="485.00" stroke="#7a7a7a" stroke-width="0.9" />
<line x1="563.50" y1="466.30" x2="566.10" y2="466.30" stroke="#7a7a7a" stroke-width="0.9" />
<rect x="549.20" y="485.00" width="31.30" height="7.80" fill="#7a7a7a" stroke="none" stroke-width="0" />
<line x1="564.80" y1="485.00" x2="564.80" y2="492.80" stroke="#666" stroke-width="0.8" />
<polyline points="383.70,478.70 383.70,368.80 521.30,368.80 521.30,477.10" fill="none" stroke="#000" stroke-width="1.3" stroke-linejoin="round"/>
<polyline points="388.70,478.70 388.70,380.20 476.00,380.20 476.00,415.70" fill="none" stroke="#000" stroke-width="1.3" stroke-linejoin="round"/>
<polyline points="480.40,415.70 480.40,380.20 517.80,380.20 517.80,477.10" fill="none" stroke="#000" stroke-width="1.3" stroke-linejoin="round"/>
<polyline points="395.10,478.70 395.10,389.80 431.10,389.80 431.10,398.40" fill="none" stroke="#000" stroke-width="1.3" stroke-linejoin="round"/>
<polyline points="438.10,398.40 438.10,389.80 472.60,389.80 472.60,415.70" fill="none" stroke="#000" stroke-width="1.3" stroke-linejoin="round"/>
<polyline points="524.80,477.10 524.80,451.60 564.40,451.60 564.40,461.10" fill="none" stroke="#000" stroke-width="1.3" stroke-linejoin="round"/>
<text x="452.80" y="365.00" font-size="9.7" text-anchor="middle" font-weight="normal" font-style="normal" fill="#000" >NS</text>
<text x="432.20" y="382.60" font-size="16" text-anchor="middle" font-weight="normal" font-style="normal" fill="#000" >***</text>
<text x="500.50" y="382.60" font-size="16" text-anchor="middle" font-weight="normal" font-style="normal" fill="#000" >***</text>
<text x="416.20" y="394.30" font-size="16" text-anchor="middle" font-weight="normal" font-style="normal" fill="#000" >***</text>
<text x="455.30" y="387.90" font-size="9.7" text-anchor="middle" font-weight="normal" font-style="normal" fill="#000" >NS</text>
<text x="545.40" y="453.60" font-size="16" text-anchor="middle" font-weight="normal" font-style="normal" fill="#000" >*</text>
<text x="382.20" y="509.60" font-size="11.1" text-anchor="start" font-weight="normal" font-style="normal" fill="#000" transform="rotate(32 382.20 509.60)" >WT (M/F)</text>
<text x="427.60" y="508.50" font-size="11.1" text-anchor="start" font-weight="normal" font-style="italic" fill="#000" transform="rotate(32 427.60 508.50)" >Mecp2<tspan font-size="8.21" dy="-4.2" dx="0.2">-/y</tspan></text>
<text x="470.40" y="508.50" font-size="11.1" text-anchor="start" font-weight="normal" font-style="italic" fill="#000" transform="rotate(32 470.40 508.50)" >Mecp2<tspan font-size="8.21" dy="-4.2" dx="0.2">+/-</tspan><tspan font-size="10.66" dy="4.2" dx="0.3">(r)</tspan></text>
<text x="514.90" y="508.50" font-size="11.1" text-anchor="start" font-weight="normal" font-style="italic" fill="#000" transform="rotate(32 514.90 508.50)" >Mecp2<tspan font-size="8.21" dy="-4.2" dx="0.2">+/-</tspan><tspan font-size="10.66" dy="4.2" dx="0.3">(n)</tspan></text>
<text x="563.40" y="508.50" font-size="11.1" text-anchor="start" font-weight="normal" font-style="italic" fill="#000" transform="rotate(32 563.40 508.50)" >Mecp2<tspan font-size="8.21" dy="-4.2" dx="0.2">+/-</tspan></text>
<rect x="47.40" y="202.00" width="5.4" height="5.4" fill="#000"/>
<rect x="42.60" y="206.50" width="5.4" height="5.4" fill="#000"/>
<rect x="42.60" y="208.80" width="5.4" height="5.4" fill="#000"/>
<rect x="37.50" y="209.10" width="5.4" height="5.4" fill="#000"/>
<rect x="49.20" y="210.00" width="5.4" height="5.4" fill="#000"/>
<rect x="51.60" y="210.00" width="5.4" height="5.4" fill="#000"/>
<rect x="79.30" y="201.90" width="5.4" height="5.4" fill="#000"/>
<rect x="37.70" y="226.80" width="5.4" height="5.4" fill="#000"/>
<rect x="42.30" y="223.80" width="5.4" height="5.4" fill="#000"/>
<rect x="42.80" y="229.30" width="5.4" height="5.4" fill="#000"/>
<rect x="45.60" y="226.80" width="5.4" height="5.4" fill="#000"/>
<rect x="52.20" y="223.60" width="5.4" height="5.4" fill="#000"/>
<rect x="85.80" y="229.30" width="5.4" height="5.4" fill="#000"/>
<rect x="91.00" y="223.80" width="5.4" height="5.4" fill="#000"/>
<rect x="91.00" y="229.30" width="5.4" height="5.4" fill="#000"/>
<rect x="113.80" y="227.00" width="5.4" height="5.4" fill="#000"/>
<rect x="131.70" y="227.00" width="5.4" height="5.4" fill="#000"/>
<rect x="52.20" y="238.20" width="5.4" height="5.4" fill="#000"/>
<rect x="56.80" y="238.20" width="5.4" height="5.4" fill="#000"/>
<rect x="61.60" y="238.20" width="5.4" height="5.4" fill="#000"/>
<rect x="71.70" y="238.00" width="5.4" height="5.4" fill="#000"/>
<rect x="37.70" y="244.00" width="5.4" height="5.4" fill="#000"/>
<rect x="37.70" y="246.30" width="5.4" height="5.4" fill="#000"/>
<rect x="57.10" y="246.90" width="5.4" height="5.4" fill="#000"/>
<rect x="139.60" y="247.00" width="5.4" height="5.4" fill="#000"/>
<rect x="37.70" y="260.30" width="5.4" height="5.4" fill="#000"/>
<rect x="42.30" y="259.60" width="5.4" height="5.4" fill="#000"/>
<rect x="47.10" y="261.00" width="5.4" height="5.4" fill="#000"/>
<rect x="67.00" y="260.10" width="5.4" height="5.4" fill="#000"/>
<rect x="38.00" y="272.50" width="5.4" height="5.4" fill="#000"/>
<rect x="38.00" y="275.10" width="5.4" height="5.4" fill="#000"/>
<rect x="52.20" y="277.50" width="5.4" height="5.4" fill="#000"/>
<rect x="71.60" y="268.80" width="5.4" height="5.4" fill="#000"/>
<rect x="76.60" y="272.10" width="5.4" height="5.4" fill="#000"/>
<rect x="71.80" y="277.30" width="5.4" height="5.4" fill="#000"/>
<rect x="110.30" y="277.50" width="5.4" height="5.4" fill="#000"/>
<rect x="126.30" y="272.20" width="5.4" height="5.4" fill="#000"/>
<rect x="47.30" y="290.50" width="5.4" height="5.4" fill="#000"/>
<rect x="71.80" y="289.50" width="5.4" height="5.4" fill="#000"/>
<rect x="76.60" y="289.50" width="5.4" height="5.4" fill="#000"/>
<rect x="105.60" y="289.70" width="5.4" height="5.4" fill="#000"/>
<rect x="37.70" y="293.00" width="5.4" height="5.4" fill="#000"/>
<rect x="37.70" y="297.30" width="5.4" height="5.4" fill="#000"/>
<rect x="37.70" y="302.60" width="5.4" height="5.4" fill="#000"/>
<rect x="43.30" y="294.80" width="5.4" height="5.4" fill="#000"/>
<rect x="48.00" y="294.80" width="5.4" height="5.4" fill="#000"/>
<rect x="50.60" y="294.80" width="5.4" height="5.4" fill="#000"/>
<rect x="47.30" y="300.90" width="5.4" height="5.4" fill="#000"/>
<rect x="57.30" y="294.50" width="5.4" height="5.4" fill="#000"/>
<rect x="61.60" y="294.50" width="5.4" height="5.4" fill="#000"/>
<rect x="57.30" y="302.60" width="5.4" height="5.4" fill="#000"/>
<rect x="61.60" y="302.60" width="5.4" height="5.4" fill="#000"/>
<rect x="71.80" y="299.90" width="5.4" height="5.4" fill="#000"/>
<rect x="149.20" y="302.70" width="5.4" height="5.4" fill="#000"/>
<polygon points="67.10,472.60 74.10,472.60 70.60,466.20" fill="none" stroke="#7a7a7a" stroke-width="0.9"/>
<polygon points="68.00,477.50 75.00,477.50 71.50,471.10" fill="none" stroke="#7a7a7a" stroke-width="0.9"/>
<polygon points="56.00,486.20 63.00,486.20 59.50,479.80" fill="none" stroke="#7a7a7a" stroke-width="0.9"/>
<polygon points="67.10,484.70 74.10,484.70 70.60,478.30" fill="none" stroke="#7a7a7a" stroke-width="0.9"/>
<polygon points="67.10,487.00 74.10,487.00 70.60,480.60" fill="none" stroke="#7a7a7a" stroke-width="0.9"/>
<polygon points="75.60,486.20 82.60,486.20 79.10,479.80" fill="none" stroke="#7a7a7a" stroke-width="0.9"/>
<polygon points="58.60,491.70 65.60,491.70 62.10,485.30" fill="none" stroke="#7a7a7a" stroke-width="0.9"/>
<polygon points="66.40,491.70 73.40,491.70 69.90,485.30" fill="none" stroke="#7a7a7a" stroke-width="0.9"/>
<polygon points="70.30,492.20 77.30,492.20 73.80,485.80" fill="none" stroke="#7a7a7a" stroke-width="0.9"/>
<polygon points="58.70,495.40 65.70,495.40 62.20,489.00" fill="none" stroke="#7a7a7a" stroke-width="0.9"/>
<polygon points="67.00,495.40 74.00,495.40 70.50,489.00" fill="none" stroke="#7a7a7a" stroke-width="0.9"/>
<polygon points="72.10,495.40 79.10,495.40 75.60,489.00" fill="none" stroke="#7a7a7a" stroke-width="0.9"/>
<polygon points="98.70,481.40 105.70,481.40 102.20,475.00" fill="none" stroke="#7a7a7a" stroke-width="0.9"/>
<polygon points="103.20,495.40 110.20,495.40 106.70,489.00" fill="none" stroke="#7a7a7a" stroke-width="0.9"/>
<polygon points="107.60,495.40 114.60,495.40 111.10,489.00" fill="none" stroke="#7a7a7a" stroke-width="0.9"/>
<polygon points="129.60,468.00 136.60,468.00 133.10,461.60" fill="none" stroke="#7a7a7a" stroke-width="0.9"/>
<polygon points="129.10,468.60 136.10,468.60 132.60,462.20" fill="none" stroke="#7a7a7a" stroke-width="0.9"/>
<polygon points="127.80,485.90 134.80,485.90 131.30,479.50" fill="none" stroke="#7a7a7a" stroke-width="0.9"/>
<polygon points="132.50,490.20 139.50,490.20 136.00,483.80" fill="none" stroke="#7a7a7a" stroke-width="0.9"/>
<polygon points="125.00,495.40 132.00,495.40 128.50,489.00" fill="none" stroke="#7a7a7a" stroke-width="0.9"/>
<polygon points="126.50,495.40 133.50,495.40 130.00,489.00" fill="none" stroke="#7a7a7a" stroke-width="0.9"/>
<polygon points="128.00,495.60 135.00,495.60 131.50,489.20" fill="none" stroke="#7a7a7a" stroke-width="0.9"/>
<polygon points="129.50,495.40 136.50,495.40 133.00,489.00" fill="none" stroke="#7a7a7a" stroke-width="0.9"/>
<polygon points="131.00,495.60 138.00,495.60 134.50,489.20" fill="none" stroke="#7a7a7a" stroke-width="0.9"/>
<polygon points="131.80,495.40 138.80,495.40 135.30,489.00" fill="none" stroke="#7a7a7a" stroke-width="0.9"/>
<polygon points="153.50,477.00 160.50,477.00 157.00,470.60" fill="none" stroke="#7a7a7a" stroke-width="0.9"/>
<polygon points="153.20,495.40 160.20,495.40 156.70,489.00" fill="none" stroke="#7a7a7a" stroke-width="0.9"/>
<polygon points="154.50,495.60 161.50,495.60 158.00,489.20" fill="none" stroke="#7a7a7a" stroke-width="0.9"/>
<polygon points="155.50,495.40 162.50,495.40 159.00,489.00" fill="none" stroke="#7a7a7a" stroke-width="0.9"/>
<polygon points="157.00,495.60 164.00,495.60 160.50,489.20" fill="none" stroke="#7a7a7a" stroke-width="0.9"/>
<polygon points="158.30,495.40 165.30,495.40 161.80,489.00" fill="none" stroke="#7a7a7a" stroke-width="0.9"/>
<polygon points="168.10,472.80 175.10,472.80 171.60,466.40" fill="none" stroke="#7a7a7a" stroke-width="0.9"/>
<polygon points="169.80,477.10 176.80,477.10 173.30,470.70" fill="none" stroke="#7a7a7a" stroke-width="0.9"/>
<polygon points="169.60,481.50 176.60,481.50 173.10,475.10" fill="none" stroke="#7a7a7a" stroke-width="0.9"/>
<polygon points="194.80,481.70 201.80,481.70 198.30,475.30" fill="none" stroke="#7a7a7a" stroke-width="0.9"/>
<polygon points="218.90,482.20 225.90,482.20 222.40,475.80" fill="none" stroke="#7a7a7a" stroke-width="0.9"/>
<polygon points="218.90,484.50 225.90,484.50 222.40,478.10" fill="none" stroke="#7a7a7a" stroke-width="0.9"/>
<polygon points="233.10,486.10 240.10,486.10 236.60,479.70" fill="none" stroke="#7a7a7a" stroke-width="0.9"/>
<polygon points="188.50,487.50 195.50,487.50 192.00,481.10" fill="none" stroke="#7a7a7a" stroke-width="0.9"/>
<polygon points="186.00,490.60 193.00,490.60 189.50,484.20" fill="none" stroke="#7a7a7a" stroke-width="0.9"/>
<polygon points="194.80,490.60 201.80,490.60 198.30,484.20" fill="none" stroke="#7a7a7a" stroke-width="0.9"/>
<polygon points="220.80,490.60 227.80,490.60 224.30,484.20" fill="none" stroke="#7a7a7a" stroke-width="0.9"/>
<polygon points="226.00,490.60 233.00,490.60 229.50,484.20" fill="none" stroke="#7a7a7a" stroke-width="0.9"/>
<polygon points="187.70,495.60 194.70,495.60 191.20,489.20" fill="none" stroke="#7a7a7a" stroke-width="0.9"/>
<polygon points="190.00,495.60 197.00,495.60 193.50,489.20" fill="none" stroke="#7a7a7a" stroke-width="0.9"/>
<polygon points="219.50,495.60 226.50,495.60 223.00,489.20" fill="none" stroke="#7a7a7a" stroke-width="0.9"/>
<polygon points="222.00,495.60 229.00,495.60 225.50,489.20" fill="none" stroke="#7a7a7a" stroke-width="0.9"/>
<polygon points="59.20,463.60 66.20,463.60 62.70,457.20" fill="#000" stroke="none" stroke-width="0.9"/>
<polygon points="76.40,431.60 83.40,431.60 79.90,425.20" fill="#000" stroke="none" stroke-width="0.9"/>
<polygon points="76.40,459.20 83.40,459.20 79.90,452.80" fill="#000" stroke="none" stroke-width="0.9"/>
<polygon points="76.40,464.00 83.40,464.00 79.90,457.60" fill="#000" stroke="none" stroke-width="0.9"/>
<polygon points="98.70,427.00 105.70,427.00 102.20,420.60" fill="#000" stroke="none" stroke-width="0.9"/>
<polygon points="107.70,411.90 114.70,411.90 111.20,405.50" fill="#000" stroke="none" stroke-width="0.9"/>
<polygon points="98.70,463.60 105.70,463.60 102.20,457.20" fill="#000" stroke="none" stroke-width="0.9"/>
<polygon points="107.70,459.00 114.70,459.00 111.20,452.60" fill="#000" stroke="none" stroke-width="0.9"/>
<polygon points="113.80,463.60 120.80,463.60 117.30,457.20" fill="#000" stroke="none" stroke-width="0.9"/>
<polygon points="153.20,399.90 160.20,399.90 156.70,393.50" fill="#000" stroke="none" stroke-width="0.9"/>
<polygon points="188.70,407.20 195.70,407.20 192.20,400.80" fill="#000" stroke="none" stroke-width="0.9"/>
<polygon points="188.70,423.90 195.70,423.90 192.20,417.50" fill="#000" stroke="none" stroke-width="0.9"/>
<polygon points="184.50,445.40 191.50,445.40 188.00,439.00" fill="#000" stroke="none" stroke-width="0.9"/>
<polygon points="184.50,450.10 191.50,450.10 188.00,443.70" fill="#000" stroke="none" stroke-width="0.9"/>
<polygon points="194.90,445.60 201.90,445.60 198.40,439.20" fill="#000" stroke="none" stroke-width="0.9"/>
<polygon points="169.40,463.80 176.40,463.80 172.90,457.40" fill="#000" stroke="none" stroke-width="0.9"/>
<polygon points="233.10,456.80 240.10,456.80 236.60,450.40" fill="#000" stroke="none" stroke-width="0.9"/>
</svg></body></html>
